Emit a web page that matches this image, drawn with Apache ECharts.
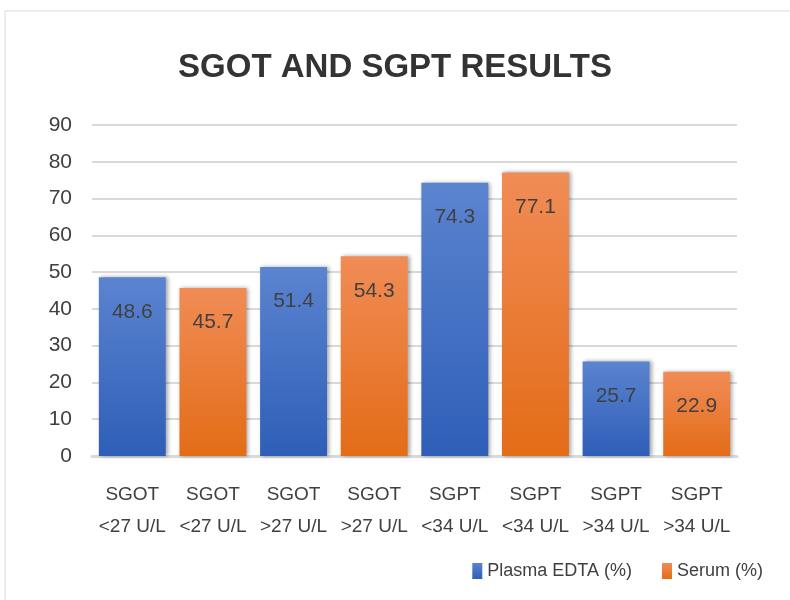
<!DOCTYPE html>
<html>
<head>
<meta charset="utf-8">
<style>
html, body { margin: 0; padding: 0; background: #fff; }
#chart { width: 790px; height: 600px; }
</style>
</head>
<body>
<div id="chart"></div>
<script src="https://cdn.jsdelivr.net/npm/echarts@6/dist/echarts.min.js"></script>
<script>
// data
var categories = ['SGOT\n<27 U/L', 'SGOT\n<27 U/L', 'SGOT\n>27 U/L', 'SGOT\n>27 U/L',
                  'SGPT\n<34 U/L', 'SGPT\n<34 U/L', 'SGPT\n>34 U/L', 'SGPT\n>34 U/L'];
var plasmaValues = [48.6, '-', 51.4, '-', 74.3, '-', 25.7, '-'];
var serumValues  = ['-', 45.7, '-', 54.3, '-', 77.1, '-', 22.9];
var yTicks = { min: 0, max: 90, interval: 10 };

var FONT = '"Liberation Sans", Arial, sans-serif';

var chart = echarts.init(document.getElementById('chart'));

function grad(top, bottom) {
    return new echarts.graphic.LinearGradient(0, 0, 0, 1, [
        { offset: 0, color: top },
        { offset: 1, color: bottom }
    ]);
}

var labelStyle = {
    show: true,
    position: 'insideTop',
    distance: 24,
    color: '#404040',
    fontSize: 21,
    fontFamily: FONT
};

var option = {
    animation: false,
    textStyle: { fontFamily: FONT },
    graphic: [{
        type: 'rect',
        shape: { x: 5, y: 11, width: 800, height: 600 },
        style: { fill: 'none', stroke: '#d9d9d9', lineWidth: 1 },
        z: -1
    }],
    title: {
        text: 'SGOT AND SGPT RESULTS',
        left: 'center',
        top: 46,
        textStyle: {
            fontFamily: FONT,
            fontSize: 33,
            fontWeight: 'bold',
            color: '#333333'
        }
    },
    legend: {
        right: 22,
        bottom: 15,
        icon: 'rect',
        itemWidth: 10,
        itemHeight: 16,
        itemGap: 30,
        textStyle: { fontFamily: FONT, fontSize: 18, color: '#404040' },
        data: ['Plasma EDTA (%)', 'Serum (%)']
    },
    grid: {
        left: 92,
        right: 53,
        top: 125,
        bottom: 144
    },
    xAxis: {
        type: 'category',
        data: categories,
        axisLine: { lineStyle: { color: '#d9d9d9', width: 3 } },
        axisTick: { show: false },
        axisLabel: {
            color: '#404040',
            fontSize: 19,
            fontFamily: FONT,
            lineHeight: 32,
            margin: 23,
            interval: 0
        }
    },
    yAxis: {
        type: 'value',
        min: yTicks.min,
        max: yTicks.max,
        interval: yTicks.interval,
        axisLine: { show: false },
        axisTick: { show: false },
        axisLabel: {
            color: '#404040',
            fontSize: 21,
            fontFamily: FONT,
            margin: 20
        },
        splitLine: { lineStyle: { color: '#d9d9d9', width: 2 } }
    },
    series: [
        {
            name: 'Plasma EDTA (%)',
            type: 'bar',
            data: plasmaValues,
            barGap: '-100%',
            barCategoryGap: '17%',
            label: labelStyle,
            itemStyle: {
                color: grad('#5b84d0', '#2e5eb7'),
                shadowColor: 'rgba(0,0,0,0.35)',
                shadowBlur: 4,
                shadowOffsetX: 2
            }
        },
        {
            name: 'Serum (%)',
            type: 'bar',
            data: serumValues,
            barGap: '-100%',
            barCategoryGap: '17%',
            label: labelStyle,
            itemStyle: {
                color: grad('#f18c56', '#e36c17'),
                shadowColor: 'rgba(0,0,0,0.35)',
                shadowBlur: 4,
                shadowOffsetX: 2
            }
        }
    ]
};

chart.setOption(option);
</script>
</body>
</html>
